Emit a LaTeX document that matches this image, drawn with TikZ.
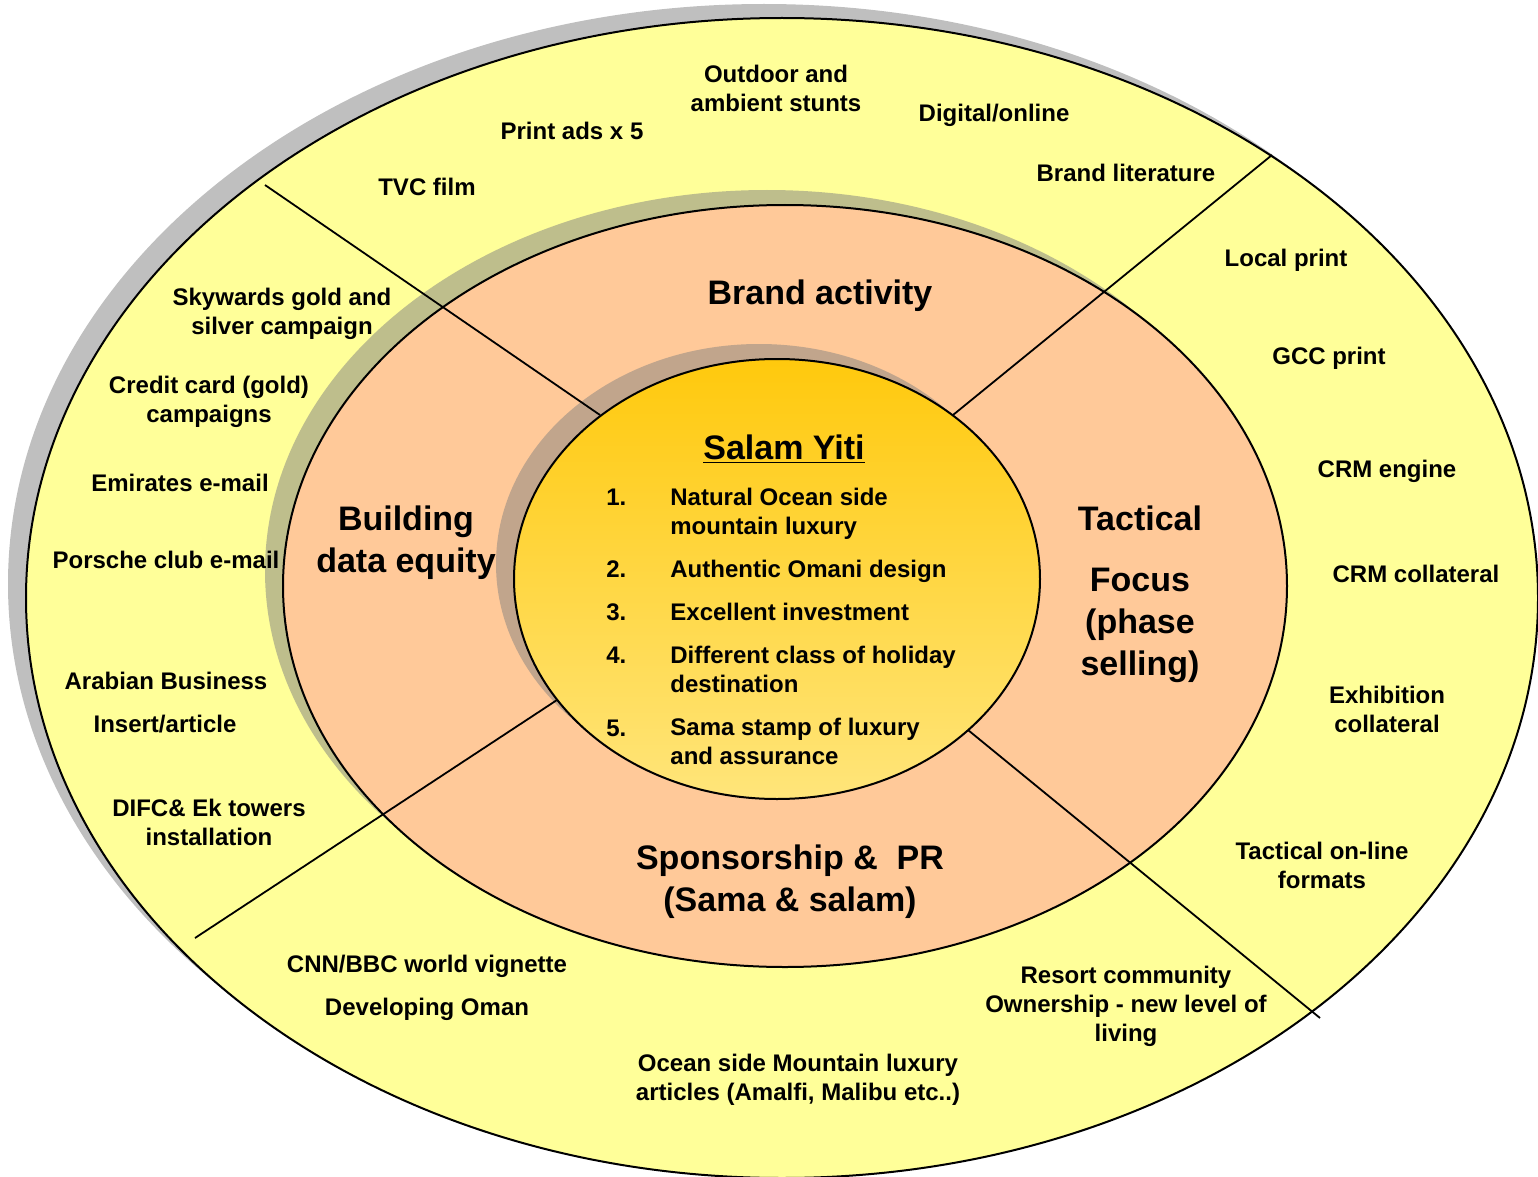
\documentclass[tikz,border=0pt]{standalone}
\usepackage{fontspec}
\setmainfont{Liberation Sans}
\definecolor{outerfill}{RGB}{255,255,153}
\definecolor{outershadow}{RGB}{191,191,191}
\definecolor{midfill}{RGB}{255,201,153}
\definecolor{midshadow}{RGB}{190,190,140}
\definecolor{innershadow}{RGB}{193,165,140}
\definecolor{coretop}{RGB}{255,201,13}
\definecolor{corebottom}{RGB}{255,229,122}
\begin{document}
\begin{tikzpicture}[x=0.5pt,y=-0.5pt,
  lbl/.style={font=\fontsize{12}{14.5}\selectfont\bfseries, align=center, inner sep=0pt},
  head/.style={font=\fontsize{17}{21}\selectfont\bfseries, align=center, inner sep=0pt},
  num/.style={font=\fontsize{12}{14.5}\selectfont\bfseries, anchor=west, inner sep=0pt},
  item/.style={font=\fontsize{12}{14.5}\selectfont\bfseries, align=left, anchor=west, inner sep=0pt},
  ring/.style={draw=black, line width=1pt},
  divider/.style={draw=black, line width=0.9pt}]

\useasboundingbox (0,0) rectangle (1538,1177);

% outer ring with its shadow
\fill[outershadow] (764,584) ellipse [x radius=378pt, y radius=290pt];
\filldraw[ring, fill=outerfill] (782,598) ellipse [x radius=378pt, y radius=290pt];

% middle ring with its shadow
\fill[midshadow] (767,571) ellipse [x radius=251pt, y radius=190.5pt];
\filldraw[ring, fill=midfill] (785,586) ellipse [x radius=251pt, y radius=190.5pt];

% core with its shadow
\fill[innershadow] (759,564) ellipse [x radius=131.5pt, y radius=110pt];
\shade[top color=coretop, bottom color=corebottom] (777,579) ellipse [x radius=131.5pt, y radius=110pt];
\draw[ring] (777,579) ellipse [x radius=131.5pt, y radius=110pt];

% quadrant dividers
\coordinate (d1a) at (265,185);  \coordinate (d1b) at (600,415);
\coordinate (d2a) at (1272,155); \coordinate (d2b) at (953,415);
\coordinate (d3a) at (195,938);  \coordinate (d3b) at (557,700);
\coordinate (d4a) at (1320,1018); \coordinate (d4b) at (968,730);
\draw[divider] (d1a) -- (d1b);
\draw[divider] (d2a) -- (d2b);
\draw[divider] (d3a) -- (d3b);
\draw[divider] (d4a) -- (d4b);

% core
\node[head] (core) at (784,449) {\underline{Salam Yiti}};
\node[num] (n1) at (606,497) {1.};
\node[num] (n2) at (606,569) {2.};
\node[num] (n3) at (606,612) {3.};
\node[num] (n4) at (606,655) {4.};
\node[num] (n5) at (606,728) {5.};
\node[item] (i1) at (670,513.5) {Natural Ocean side\\mountain luxury};
\node[item] (i2) at (670,571) {Authentic Omani design};
\node[item] (i3) at (670,612) {Excellent investment};
\node[item] (i4) at (670,669.5) {Different class of holiday\\destination};
\node[item] (i5) at (670,741.5) {Sama stamp of luxury\\and assurance};

% middle ring headings
\node[head] (brand) at (820,296) {Brand activity};
\node[head] (data) at (406,543) {Building\\data equity};
\node[head] (tact) at (1140,518) {Tactical};
\node[head] (focus) at (1140,625.5) {Focus\\(phase\\selling)};
\node[head] (spons) at (790,882) {Sponsorship \& ~PR\\(Sama \& salam)};

% outer ring: brand activity
\node[lbl] (tvc) at (427,187) {TVC film};
\node[lbl] (print) at (572,131) {Print ads x 5};
\node[lbl] (outdoor) at (776,88.5) {Outdoor and\\ambient stunts};
\node[lbl] (digital) at (994,115) {Digital/online};
\node[lbl] (lit) at (1126,173) {Brand literature};

% outer ring: tactical
\node[lbl] (local) at (1286,260) {Local print};
\node[lbl] (gcc) at (1329,358) {GCC print};
\node[lbl] (crme) at (1387,471) {CRM engine};
\node[lbl] (crmc) at (1416,574) {CRM collateral};
\node[lbl] (exhib) at (1387,709.5) {Exhibition\\collateral};
\node[lbl] (online) at (1322,865.5) {Tactical on-line\\formats};

% outer ring: sponsorship
\node[lbl] (resort) at (1126,1006) {Resort community\\Ownership - new level of\\living};
\node[lbl] (ocean) at (798,1079.5) {Ocean side Mountain luxury\\articles (Amalfi, Malibu etc..)};
\node[lbl] (cnn) at (427,966) {CNN/BBC world vignette};
\node[lbl] (oman) at (427,1009) {Developing Oman};

% outer ring: data equity
\node[lbl] (difc) at (209,822.5) {DIFC\& Ek towers\\installation};
\node[lbl] (arab) at (166,681) {Arabian Business};
\node[lbl] (insert) at (165,724) {Insert/article};
\node[lbl] (porsche) at (166,560) {Porsche club e-mail};
\node[lbl] (emirates) at (180,483) {Emirates e-mail};
\node[lbl] (credit) at (209,401.5) {Credit card (gold)\\campaigns};
\node[lbl] (sky) at (282,313.5) {Skywards gold and\\silver campaign};
\end{tikzpicture}
\end{document}
